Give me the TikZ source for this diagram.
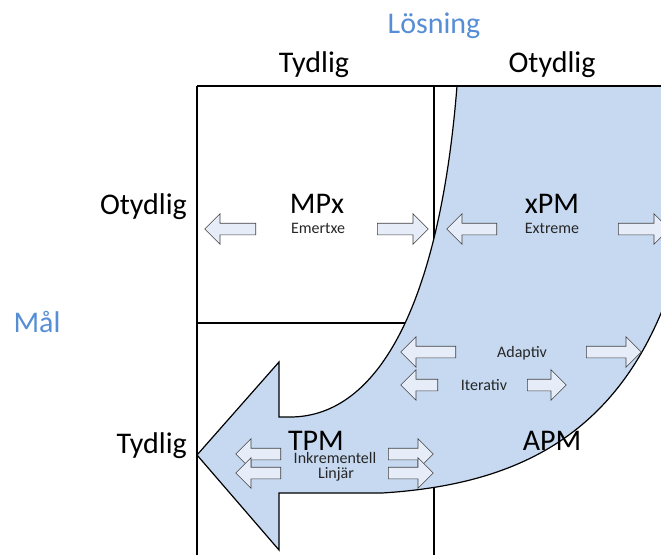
\documentclass[tikz,border=0pt]{standalone}
\usepackage{fontspec}
\setmainfont{Carlito}
\usepackage{xcolor}
\usepackage{tikz}
\usetikzlibrary{shapes.arrows}
\definecolor{bandfill}{RGB}{198,217,241}
\definecolor{tipfill}{RGB}{230,237,248}
\definecolor{axisblue}{RGB}{85,142,213}

\begin{document}
\begin{tikzpicture}[x=1pt, y=-1pt,
    big/.style={font=\fontsize{30}{36}\selectfont, inner sep=0pt, anchor=base},
    small/.style={font=\fontsize{16}{19}\selectfont, text=black!85, inner sep=0pt, anchor=base},
    axis/.style={big, text=axisblue},
    grid/.style={line width=1.5pt},
    blkr/.style={single arrow, draw=black!75, fill=tipfill, line width=0.6pt,
        inner xsep=0pt, inner ysep=5.5pt, single arrow head extend=9.5pt,
        minimum height=#1, anchor=tail},
    blkl/.style={blkr=#1, shape border rotate=180}
]
\useasboundingbox (0,0) rectangle (661,555);
\clip (0,0) rectangle (661,555);

% grid
\draw[grid] (197,86) -- (197,555);
\draw[grid] (434,86) -- (434,555);
\draw[grid] (197,323) -- (434,323);

% bent arrow
\filldraw[fill=bandfill, line width=1.2pt] (197,455) -- (279,362) -- (279,417) -- (290,417)
    .. controls (380,417) and (440,300) .. (457,86) -- (705,86)
    .. controls (690,400) and (560,482) .. (382,493) -- (279,493) -- (279,550) -- cycle;
\draw[grid] (197,86) -- (661,86);

% axes
\node[axis] (sol) at (434,33) {Lösning};
\node[big] (solclear) at (314,72) {Tydlig};
\node[big] (solvague) at (552,72) {Otydlig};
\node[big, anchor=base east] (goalvague) at (187,214) {Otydlig};
\node[axis] (goal) at (37,332) {Mål};
\node[big, anchor=base east] (goalclear) at (187,453) {Tydlig};

% quadrants
\node[big] (mpx) at (317,213) {MPx};
\node[small] (mpxsub) at (318,233) {Emertxe};
\node[big] (xpm) at (552,213) {xPM};
\node[small] (xpmsub) at (552,233) {Extreme};
\node[small] (adp) at (522,357) {Adaptiv};
\node[small] (itr) at (484,390) {Iterativ};
\node[big] (tpm) at (316,450) {TPM};
\node[big] (apm) at (552,450) {APM};
\node[small] (inc) at (335,463) {Inkrementell};
\node[small] (lin) at (336,478) {Linjär};

% block arrows
\node[blkl=51pt] (mpxL) at (256,229) {};
\node[blkr=51pt] (mpxR) at (377,229) {};
\node[blkl=50pt] (xpmL) at (497,229) {};
\node[blkr=51pt] (xpmR) at (618,229) {};
\node[blkl=55pt] (adpL) at (456,352) {};
\node[blkr=55pt] (adpR) at (586,352) {};
\node[blkl=37pt] (itrL) at (438,385) {};
\node[blkr=39pt] (itrR) at (527,385) {};
\node[blkl=45pt] (tpmL1) at (281,454) {};
\node[blkl=45pt] (tpmL2) at (281,473) {};
\node[blkr=45pt] (tpmR1) at (388,454) {};
\node[blkr=45pt] (tpmR2) at (388,473) {};
\end{tikzpicture}
\end{document}
